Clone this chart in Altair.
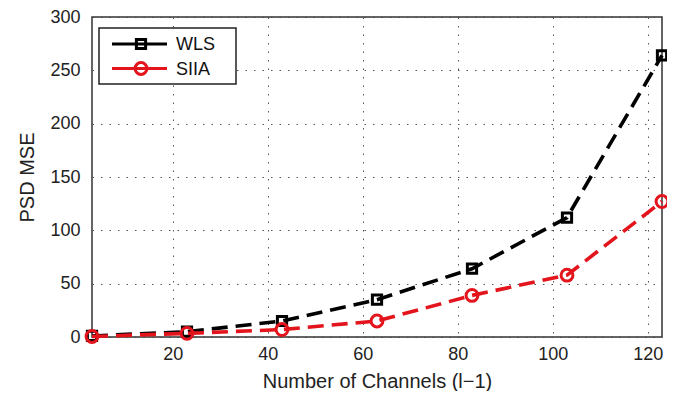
import altair as alt
import pandas as pd

# ---- data ----
channels = [3, 23, 43, 63, 83, 103, 123]
wls = [1, 5, 15, 35, 64, 112, 264]
siia = [0.5, 3.4, 7, 15, 39, 58, 127]
series_names = ["WLS", "SIIA"]
x_ticks = [20, 40, 60, 80, 100, 120]
y_ticks = [0, 50, 100, 150, 200, 250, 300]

colors = ["#000000", "#e3141c"]
shapes = ["square", "circle"]
sizes = [85, 140]

df = pd.DataFrame({
    "channels": channels * 2,
    "mse": wls + siia,
    "series": ["WLS"] * len(channels) + ["SIIA"] * len(channels),
})

FONT = "Liberation Sans"
W, H = 570, 320

xenc = alt.X("channels:Q", scale=alt.Scale(domain=[3, 123], nice=False, zero=False),
             axis=alt.Axis(values=x_ticks, title="Number of Channels (l\u22121)"))
yenc = alt.Y("mse:Q", scale=alt.Scale(domain=[0, 300], nice=False),
             axis=alt.Axis(values=y_ticks, title="PSD MSE"))

layers = []
for name, col, shp, sz in zip(series_names, colors, shapes, sizes):
    sub = alt.Chart(df).transform_filter(alt.datum.series == name)
    line = sub.mark_line(color=col, strokeWidth=3.6, strokeDash=[16, 8]).encode(x=xenc, y=yenc)
    pts = sub.mark_point(color=col, shape=shp, size=sz, strokeWidth=3, filled=False, opacity=1).encode(x=xenc, y=yenc)
    layers += [line, pts]

# ---- legend drawn inside the plot (top-left) ----
one = pd.DataFrame({"a": [0]})
box = alt.Chart(one).mark_rect(fill="white", stroke="#222", strokeWidth=1.5).encode(
    x=alt.value(7), x2=alt.value(144), y=alt.value(11), y2=alt.value(67))
layers.append(box)
for i, (name, col, shp, sz) in enumerate(zip(series_names, colors, shapes, sizes)):
    yy = 27 + i * 24.5
    ld = pd.DataFrame({"label": [name]})
    layers.append(alt.Chart(ld).mark_rule(color=col, strokeWidth=3).encode(
        x=alt.value(20), x2=alt.value(75), y=alt.value(yy)))
    layers.append(alt.Chart(ld).mark_point(shape=shp, size=sz, strokeWidth=3, stroke=col,
                                            filled=False, opacity=1).encode(
        x=alt.value(49), y=alt.value(yy)))
    layers.append(alt.Chart(ld).mark_text(align="left", baseline="middle", font=FONT,
                                           fontSize=18, color="#111").encode(
        text="label:N", x=alt.value(84), y=alt.value(yy + 1)))

chart = alt.layer(*layers).properties(
    width=W, height=H,
    autosize=alt.AutoSizeParams(type="none"),
    padding={"left": 84, "top": 9, "right": 5, "bottom": 54},
).configure_view(
    stroke="#333", strokeWidth=1.5
).configure_axis(
    domain=False, ticks=False,
    grid=True, gridColor="#444", gridDash=[1.5, 7], gridWidth=1, gridOpacity=0.9,
    labelFont=FONT, labelFontSize=18, labelColor="#222",
    titleFont=FONT, titleFontSize=20, titleFontWeight="normal", titleColor="#222",
).configure_axisX(
    labelPadding=8, titlePadding=8
).configure_axisY(
    labelPadding=12, titlePadding=12
)

chart.save("out.html", embed_options={"renderer": "svg", "actions": False})
